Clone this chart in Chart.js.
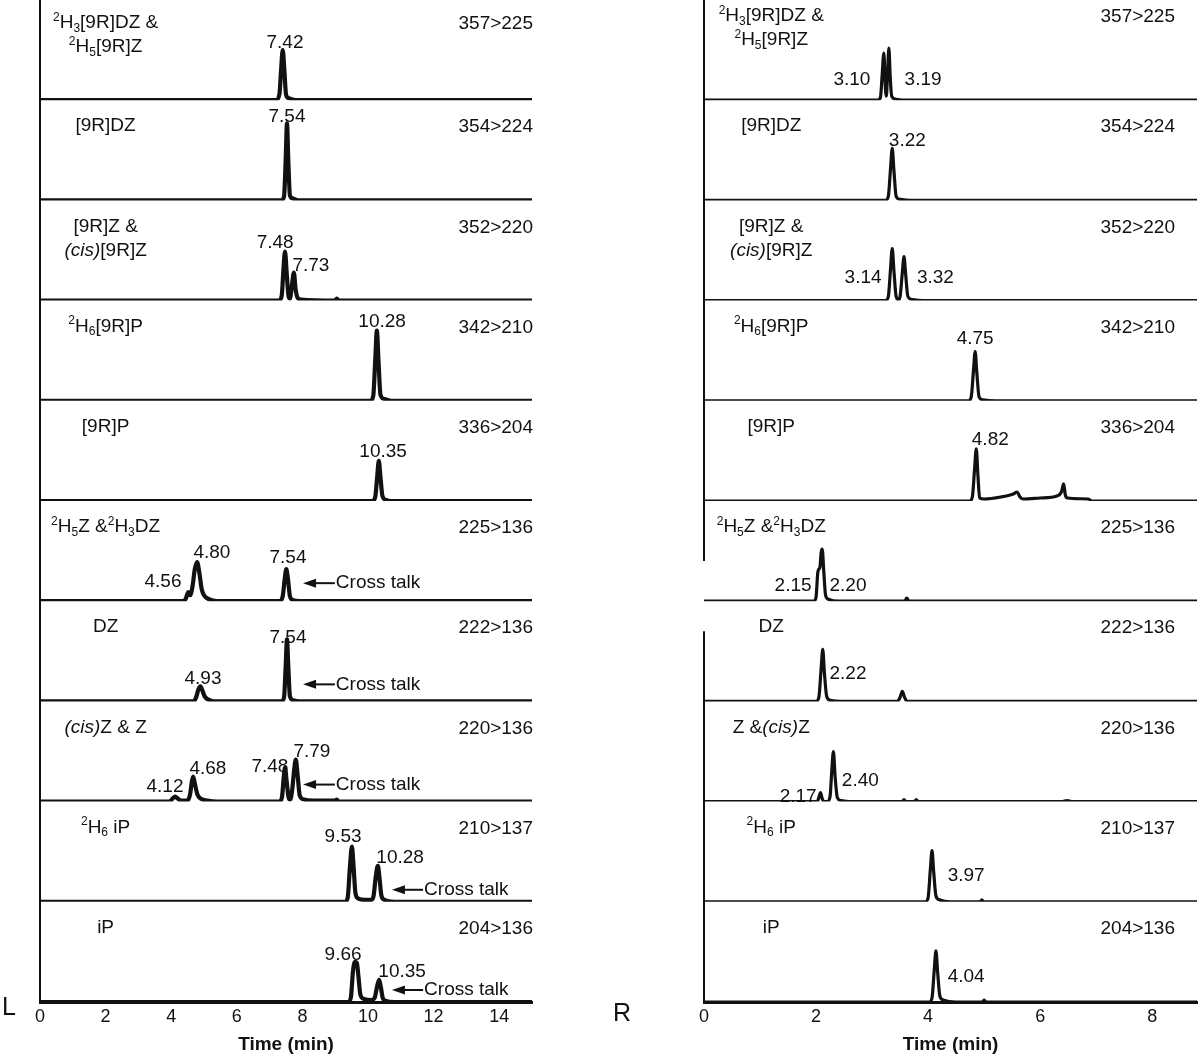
<!DOCTYPE html>
<html>
<head>
<meta charset="utf-8">
<script src="https://cdn.jsdelivr.net/npm/chart.js@4.4.1/dist/chart.umd.min.js"></script>
<style>
  body { margin: 0; background: #fff; }
  #wrap { position: relative; width: 1200px; height: 1056px; }
  canvas { position: absolute; top: 0; }
  #chartL { left: 0; }
  #chartR { left: 600px; }
</style>
</head>
<body>
<div id="wrap">
  <canvas id="chartL" width="600" height="1056"></canvas>
  <canvas id="chartR" width="600" height="1056"></canvas>
</div>
<script>
const FONT = "'Liberation Sans', Arial, Helvetica, sans-serif";

// time axis ticks (min)
const ticksL = [0, 2, 4, 6, 8, 10, 12, 14];
const ticksR = [0, 2, 4, 6, 8];

// compound names and MRM transitions, top row first
// ^x = superscript, _x = subscript, *...* = italic
const namesL = ["^2H_3[9R]DZ &\n^2H_5[9R]Z", "[9R]DZ", "[9R]Z &\n*(cis)*[9R]Z", "^2H_6[9R]P", "[9R]P",
  "^2H_5Z &^2H_3DZ", "DZ", "*(cis)*Z & Z", "^2H_6 iP", "iP"];
const namesR = ["^2H_3[9R]DZ &\n^2H_5[9R]Z", "[9R]DZ", "[9R]Z &\n*(cis)*[9R]Z", "^2H_6[9R]P", "[9R]P",
  "^2H_5Z &^2H_3DZ", "DZ", "Z &*(cis)*Z", "^2H_6 iP", "iP"];
const transitions = ["357>225", "354>224", "352>220", "342>210", "336>204",
  "225>136", "222>136", "220>136", "210>137", "204>136"];

// chromatograms, [time (min), relative intensity]
const left357 = [[0,0],[7.2,0],[7.3,6],[7.35,30],[7.4,50],[7.45,30],[7.5,6],[7.58,2],[7.8,0],[15,0]];
const left354 = [[0,0],[7.35,0],[7.44,4],[7.49,40],[7.53,77],[7.57,40],[7.62,5],[7.7,2],[7.9,0],[15,0]];
const left352 = [[0,0],[7.28,0],[7.37,5],[7.42,30],[7.47,49],[7.52,28],[7.58,4],[7.62,2],[7.67,12],[7.74,28],[7.79,12],[7.85,3],[7.95,1],[9.0,0],[9.05,2],[9.1,0],[15,0]];
const left342 = [[0,0],[10.07,0],[10.16,5],[10.22,40],[10.27,70],[10.32,40],[10.38,6],[10.48,2],[10.7,0],[15,0]];
const left336 = [[0,0],[10.13,0],[10.22,4],[10.28,24],[10.33,40],[10.38,24],[10.44,5],[10.55,1],[10.7,0],[15,0]];
const left225 = [[0,0],[4.38,0],[4.45,3],[4.52,9],[4.58,6],[4.65,15],[4.72,32],[4.79,39],[4.86,28],[4.93,12],[5.0,6],[5.15,2],[5.4,0],[7.3,0],[7.4,5],[7.46,22],[7.51,32],[7.56,22],[7.62,5],[7.72,1],[7.9,0],[15,0]];
const left222 = [[0,0],[4.68,0],[4.76,4],[4.83,12],[4.89,15],[4.95,11],[5.02,5],[5.12,2],[5.3,0],[7.36,0],[7.44,4],[7.49,35],[7.53,62],[7.57,35],[7.62,5],[7.72,1],[7.9,0],[15,0]];
const left220 = [[0,0],[3.95,0],[4.04,3],[4.12,5],[4.2,3],[4.3,1],[4.5,1],[4.58,8],[4.63,20],[4.67,25],[4.72,18],[4.8,7],[4.9,3],[5.1,1],[5.4,0],[7.3,0],[7.38,5],[7.43,24],[7.47,34],[7.52,20],[7.58,4],[7.63,2],[7.69,12],[7.75,32],[7.8,42],[7.85,28],[7.92,6],[8.05,2],[8.3,1],[9.0,1],[9.05,2],[9.1,0],[15,0]];
const left210 = [[0,0],[9.3,0],[9.38,4],[9.45,35],[9.51,55],[9.56,35],[9.62,8],[9.72,3],[9.9,2],[10.1,2],[10.17,6],[10.24,26],[10.3,36],[10.35,24],[10.41,6],[10.5,2],[10.8,0],[15,0]];
const left204 = [[0,0],[9.4,0],[9.48,5],[9.54,30],[9.6,40],[9.66,39],[9.71,25],[9.77,7],[9.88,3],[10.1,2],[10.2,4],[10.28,16],[10.34,22],[10.39,15],[10.45,4],[10.55,1],[10.8,0],[15,0]];

const right357 = [[0,0],[3.1,0],[3.15,3],[3.18,25],[3.21,47],[3.235,15],[3.255,4],[3.275,25],[3.3,52],[3.325,22],[3.35,4],[3.42,1],[3.6,0],[8.8,0]];
const right354 = [[0,0],[3.24,0],[3.29,4],[3.33,32],[3.36,52],[3.39,30],[3.43,4],[3.5,1],[3.7,0],[8.8,0]];
const right352 = [[0,0],[3.24,0],[3.29,4],[3.33,32],[3.36,52],[3.39,30],[3.43,4],[3.47,1],[3.5,4],[3.54,28],[3.57,44],[3.6,26],[3.64,4],[3.72,1],[3.9,0],[8.8,0]];
const right342 = [[0,0],[4.72,0],[4.77,4],[4.81,30],[4.84,49],[4.87,28],[4.91,4],[4.98,1],[5.2,0],[8.8,0]];
const right336 = [[0,0],[4.74,0],[4.79,4],[4.83,32],[4.86,52],[4.89,25],[4.92,3],[5.0,2],[5.3,4],[5.52,7],[5.59,9],[5.64,4],[5.7,2],[6.0,3],[6.3,5],[6.38,9],[6.42,17],[6.45,6],[6.49,3],[6.86,2],[6.92,0],[8.8,0]];
const right225 = [[0,0],[1.96,0],[2.0,4],[2.03,28],[2.05,32],[2.07,34],[2.09,48],[2.11,52],[2.14,28],[2.17,6],[2.22,2],[2.4,0],[3.58,0],[3.62,3],[3.66,0],[8.8,0]];
const right222 = [[0,0],[2.0,0],[2.05,4],[2.09,32],[2.12,52],[2.15,28],[2.19,5],[2.26,1],[2.5,0],[3.45,0],[3.5,4],[3.54,10],[3.58,4],[3.63,0],[8.8,0]];
const right220 = [[0,0],[2.02,0],[2.05,4],[2.08,9],[2.11,3],[2.14,0],[2.2,0],[2.25,5],[2.28,30],[2.31,50],[2.34,25],[2.38,4],[2.45,1],[2.6,0],[3.54,0],[3.57,2],[3.6,0],[3.76,0],[3.79,2],[3.82,0],[6.4,0],[6.48,1],[6.56,0],[8.8,0]];
const right210 = [[0,0],[3.95,0],[4.0,4],[4.04,32],[4.07,51],[4.1,30],[4.14,6],[4.2,2],[4.4,0],[4.93,0],[4.96,2],[4.99,0],[8.8,0]];
const right204 = [[0,0],[4.02,0],[4.07,4],[4.11,32],[4.14,51],[4.17,30],[4.21,6],[4.27,2],[4.5,0],[4.97,0],[5.0,2],[5.03,0],[8.8,0]];

// retention time labels: [row, text, time, intensity]
const peaksL = [[0,"7.42",7.47,57],[1,"7.54",7.53,83],[2,"7.48",7.17,58],[2,"7.73",8.26,35],
  [3,"10.28",10.43,79],[4,"10.35",10.46,49],[5,"4.56",3.75,19],[5,"4.80",5.24,48],[5,"7.54",7.56,43],
  [6,"4.93",4.97,23],[6,"7.54",7.56,64],[7,"4.12",3.81,15],[7,"4.68",5.12,33],[7,"7.48",7.01,35],[7,"7.79",8.29,50],
  [8,"9.53",9.24,65],[8,"10.28",10.98,44],[9,"9.66",9.24,47],[9,"10.35",11.04,30]];
const peaksR = [[0,"3.10",2.64,20],[0,"3.19",3.91,20],[1,"3.22",3.63,60],[2,"3.14",2.84,23],[2,"3.32",4.13,23],
  [3,"4.75",4.84,62],[4,"4.82",5.11,61],[5,"2.15",1.59,15],[5,"2.20",2.57,15],[6,"2.22",2.57,28],
  [7,"2.17",1.68,5],[7,"2.40",2.79,21],[8,"3.97",4.68,26],[9,"4.04",4.68,25]];

// "Cross talk" arrows: [row, arrow head time, arrow tail time, intensity]
const crossL = [[5,8.02,8.99,18],[6,8.02,8.99,17],[7,8.02,8.99,17],[8,10.73,11.68,12],[9,10.73,11.68,12]];

function drawRich(ctx, str, x, y, size, align) {
  const runs = [];
  let italic = false;
  for (let i = 0; i < str.length; i++) {
    const c = str[i];
    if (c === "*") { italic = !italic; continue; }
    if (c === "^" || c === "_") { runs.push({ t: str[++i], k: c, it: italic }); continue; }
    const last = runs[runs.length - 1];
    if (last && last.k === "" && last.it === italic) last.t += c;
    else runs.push({ t: c, k: "", it: italic });
  }
  const fontOf = (r) => (r.it ? "italic " : "") + (r.k ? Math.round(size * 0.62) : size) + "px " + FONT;
  let w = 0;
  runs.forEach((r) => { ctx.font = fontOf(r); r.w = ctx.measureText(r.t).width; w += r.w; });
  let cx = align === "center" ? x - w / 2 : align === "right" ? x - w : x;
  ctx.textAlign = "left";
  ctx.textBaseline = "middle";
  runs.forEach((r) => {
    ctx.font = fontOf(r);
    const dy = r.k === "^" ? -size * 0.3 : r.k === "_" ? size * 0.28 : 0;
    ctx.fillText(r.t, cx, y + dy);
    cx += r.w;
  });
}

function makeLabels(cfg) {
  return {
    id: "labels" + cfg.letter,
    afterDatasetsDraw(chart) {
      const ctx = chart.ctx;
      const area = chart.chartArea;
      const x = chart.scales.x;
      ctx.save();
      ctx.fillStyle = "#111";
      ctx.strokeStyle = "#111";

      // left axis line
      ctx.lineWidth = 2;
      ctx.beginPath();
      if (cfg.gap) {
        const g0 = chart.scales["y" + cfg.gap[0][0]].getPixelForValue(cfg.gap[0][1]);
        const g1 = chart.scales["y" + cfg.gap[1][0]].getPixelForValue(cfg.gap[1][1]);
        ctx.moveTo(area.left, area.top); ctx.lineTo(area.left, g0);
        ctx.moveTo(area.left, g1); ctx.lineTo(area.left, area.bottom);
      } else {
        ctx.moveTo(area.left, area.top); ctx.lineTo(area.left, area.bottom);
      }
      ctx.stroke();

      // names and transitions
      cfg.names.forEach((name, i) => {
        const top = chart.scales["y" + i].top + (i === 0 ? cfg.firstDy : 0);
        name.split("\n").forEach((line, j) => {
          drawRich(ctx, line, x.getPixelForValue(cfg.nameT), top + 26 + j * 24, 19, "center");
        });
        drawRich(ctx, transitions[i], area.right + cfg.transDx, top + 27, 19, "right");
      });

      // retention times
      cfg.peaks.forEach(([row, text, t, h]) => {
        drawRich(ctx, text, x.getPixelForValue(t), chart.scales["y" + row].getPixelForValue(h), 19, "center");
      });

      // cross talk arrows
      cfg.cross.forEach(([row, th, tt, h]) => {
        const y = chart.scales["y" + row].getPixelForValue(h);
        const hx = x.getPixelForValue(th);
        const tx = x.getPixelForValue(tt);
        ctx.lineWidth = 2;
        ctx.beginPath(); ctx.moveTo(hx + 8, y); ctx.lineTo(tx, y); ctx.stroke();
        ctx.beginPath(); ctx.moveTo(hx, y); ctx.lineTo(hx + 13, y - 4.5); ctx.lineTo(hx + 13, y + 4.5); ctx.closePath(); ctx.fill();
        drawRich(ctx, "Cross talk", tx + 1, y, 19, "left");
      });

      // panel letter
      ctx.font = "25px " + FONT;
      ctx.textAlign = "left";
      ctx.textBaseline = "middle";
      ctx.fillText(cfg.letter, area.left + cfg.letterDx, area.bottom + cfg.letterDy);
      ctx.restore();
    },
  };
}

function rowScales(n) {
  const s = {};
  for (let i = 0; i < n; i++) {
    s["y" + i] = { type: "linear", min: 0, max: 100, display: false, position: "left", stack: "rows", stackWeight: 1, weight: n - i };
  }
  return s;
}

function makeChart(id, traces, ticks, tMax, lineW, padding, cfg) {
  const scales = rowScales(traces.length);
  scales.x = {
    type: "linear", min: 0, max: tMax,
    grid: { display: false, drawTicks: false },
    border: { display: true, color: "#111", width: 3 },
    ticks: { color: "#111", font: { size: 18, family: FONT }, padding: 4, includeBounds: false },
    afterBuildTicks: (s) => { s.ticks = ticks.map((v) => ({ value: v })); },
    afterFit: (s) => { s.height = 54; },
    title: { display: true, text: "Time (min)", color: "#111", font: { size: 19, weight: "bold", family: FONT }, padding: { top: 0, bottom: 0 } },
  };
  return new Chart(document.getElementById(id), {
    type: "line",
    data: {
      datasets: traces.map((tr, i) => ({
        data: tr.map(([t, h]) => ({ x: t, y: h })),
        yAxisID: "y" + i,
        borderColor: "#111",
        borderWidth: lineW,
        pointRadius: 0,
        cubicInterpolationMode: "monotone",
        borderJoinStyle: "round",
        fill: false,
      })),
    },
    options: {
      responsive: false,
      animation: false,
      layout: { padding: padding },
      plugins: { legend: { display: false }, tooltip: { enabled: false } },
      scales: scales,
    },
    plugins: [makeLabels(cfg)],
  });
}

makeChart("chartL",
  [left357, left354, left352, left342, left336, left225, left222, left220, left210, left204],
  ticksL, 15, 4.2, { left: 40, right: 68, top: 0, bottom: 0 },
  { letter: "L", letterDx: -38, letterDy: 6, firstDy: -3, names: namesL, nameT: 2.0, transDx: 1, peaks: peaksL, cross: crossL, gap: null });

makeChart("chartR",
  [right357, right354, right352, right342, right336, right225, right222, right220, right210, right204],
  ticksR, 8.8, 3.2, { left: 104, right: 3, top: 0, bottom: 0 },
  { letter: "R", letterDx: -91, letterDy: 12, firstDy: -10, names: namesR, nameT: 1.2, transDx: -22, peaks: peaksR, cross: [], gap: [[5, 40], [6, 70]] });
</script>
</body>
</html>
